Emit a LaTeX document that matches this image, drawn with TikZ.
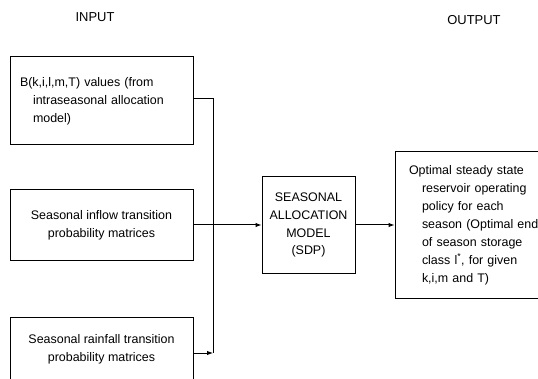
\documentclass[tikz,border=0pt]{standalone}
\usepackage{fontspec}
\setmainfont{Liberation Sans}
\usetikzlibrary{arrows.meta}

\tikzset{
  box/.style={draw, line width=1pt, rectangle, inner ysep=0pt,
              font=\fontsize{12.5}{18}\selectfont},
  head/.style={font=\fontsize{13}{15}\selectfont},
  tip/.style={-{Latex[length=6pt,width=4.5pt]}}
}

\begin{document}
\begin{tikzpicture}
  \clip (0bp,0bp) rectangle (538bp,379bp);

  \node (input)  at (95bp,362bp)  [head] {INPUT};
  \node (output) at (474bp,359bp) [head] {OUTPUT};

  \node (vals)   at (101.5bp,278bp) [box, minimum height=88bp, text width=163bp, inner xsep=10bp, align=left]
    {B(k,i,l,m,T) values (from\\ \hspace*{13bp}intraseasonal allocation\\ \hspace*{13bp}model)};
  \node (inflow) at (101.5bp,154bp) [box, minimum width=183bp, minimum height=70bp, align=center]
    {Seasonal inflow transition\\probability matrices};
  \node (rain)   at (101.5bp,22bp)  [box, minimum width=183bp, minimum height=80bp, align=center]
    {Seasonal rainfall transition\\probability matrices\\[0bp]};

  \node (sdp)    at (308.5bp,154bp) [box, minimum width=93bp, minimum height=96bp, align=center]
    {SEASONAL\\ALLOCATION\\MODEL\\(SDP)};
  \node (out)    at (484bp,154bp)   [box, minimum height=147bp, text width=150bp, inner xsep=14bp, align=left]
    {Optimal steady state\\ \hspace*{13bp}reservoir operating\\ \hspace*{13bp}policy for each\\
     \hspace*{13bp}season (Optimal end\\ \hspace*{13bp}of season storage\\
     \hspace*{13bp}class l\textsuperscript{*}, for given\\ \hspace*{13bp}k,i,m and T)};

  \coordinate (top) at (213bp,280bp);
  \coordinate (bot) at (213bp,26bp);

  \draw (vals.east |- top) -- (top) -- (bot) [line width=1pt];
  \draw (rain.east |- bot) -- (bot) [line width=1pt, tip];
  \draw (inflow) -- (sdp) [line width=1pt, tip];
  \draw (sdp) -- (out) [line width=1pt, tip];
\end{tikzpicture}
\end{document}
